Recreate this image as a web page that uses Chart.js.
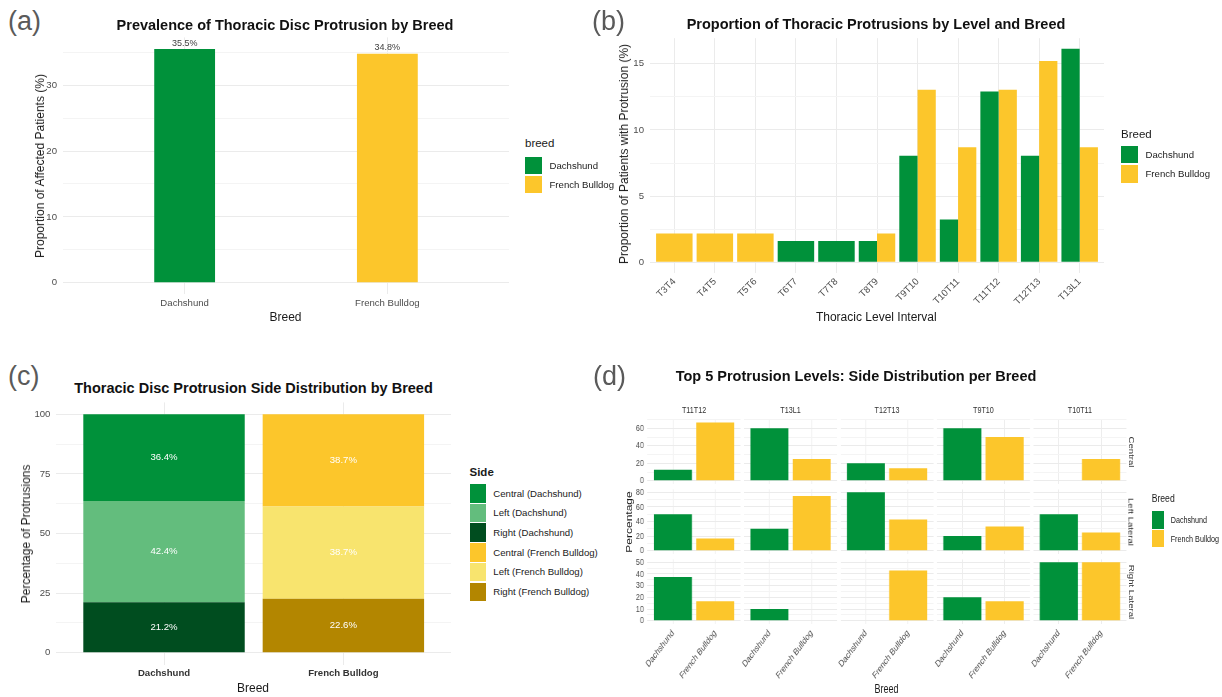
<!DOCTYPE html>
<html lang="en">
<head>
<meta charset="utf-8">
<title>Thoracic disc protrusion in Dachshunds and French Bulldogs</title>
<script src="https://cdn.jsdelivr.net/npm/chart.js@4.4.1/dist/chart.umd.min.js"></script>
<style>
  html, body { margin: 0; padding: 0; background: #fff; }
  #fig { position: relative; width: 1222px; height: 697px; overflow: hidden;
         font-family: "Liberation Sans", Arial, sans-serif; background: #fff; }
  .t { position: absolute; white-space: nowrap; line-height: 1; }
  .sw { position: absolute; }
  canvas { position: absolute; }
  /* the faceted panel is drawn at full width and squeezed horizontally */
  #facets { position: absolute; left: 600px; top: 0; width: 830px; height: 697px;
            transform: scaleX(0.75); transform-origin: 0 0; }
</style>
</head>
<body>
<div id="fig"><div id="facets"></div></div>
<script>
// ---------------- data ----------------
const breeds = ['Dachshund', 'French Bulldog'];
const breedColors = ['#00913a', '#fcc62b'];

// (a) prevalence per breed (%)
const prevalence = [35.5, 34.8];
const prevalenceTicks = [0, 10, 20, 30];

// (b) proportion of patients with a protrusion at each thoracic level (%)
const levels = ['T3T4', 'T4T5', 'T5T6', 'T6T7', 'T7T8', 'T8T9', 'T9T10', 'T10T11', 'T11T12', 'T12T13', 'T13L1'];
const levelDachshund = [null, null, null, 1.61, 1.61, 1.61, 8.06, 3.23, 12.9, 8.06, 16.13];
const levelFrench = [2.17, 2.17, 2.17, null, null, 2.17, 13.04, 8.7, 13.04, 15.22, 8.7];
const levelTicks = [0, 5, 10, 15];

// (c) side of protrusion per breed (%)
const sides = ['Central', 'Left', 'Right'];
const sideDachshund = [36.4, 42.4, 21.2];
const sideFrench = [38.7, 38.7, 22.6];
const sideColorsDachshund = ['#00913a', '#63bd7d', '#004d1f'];
const sideColorsFrench = ['#fcc62b', '#f8e46e', '#b38600'];
const sideTicks = [0, 25, 50, 75, 100];

// (d) side distribution for the five most affected levels (%)
const topLevels = ['T11T12', 'T13L1', 'T12T13', 'T9T10', 'T10T11'];
const facetRows = ['Central', 'Left Lateral', 'Right Lateral'];
const centralDachshund = [12.5, 60, 20, 60, null];
const centralFrench = [66.7, 25, 14.3, 50, 25];
const leftDachshund = [50, 30, 80, 20, 50];
const leftFrench = [16.7, 75, 42.9, 33.3, 25];
const rightDachshund = [37.5, 10, null, 20, 50];
const rightFrench = [16.7, null, 42.9, 16.7, 50];
const centralTicks = [0, 20, 40, 60];
const leftTicks = [0, 20, 40, 60, 80];
const rightTicks = [0, 10, 20, 30, 40, 50];

// ---------------- style ----------------
const FONT = '"Liberation Sans", Arial, sans-serif';
Chart.defaults.font.family = FONT;
const GRID = '#ebebeb', GRID_MINOR = '#f4f4f4', TICK = '#4d4d4d', INK = '#1a1a1a';
const TICK_SIZE = 9.6, TITLE_SIZE = 12, LEGEND_TITLE = 11.5;

const fig = document.getElementById('fig');
const facets = document.getElementById('facets');

// ---------------- helpers ----------------
function text(parent, str, x, base, size, o = {}) {
  const d = document.createElement('div');
  d.className = 't';
  d.textContent = str;
  d.style.fontSize = size + 'px';
  d.style.fontWeight = o.bold ? 'bold' : 'normal';
  d.style.color = o.color || INK;
  d.style.left = x + 'px';
  d.style.top = (base - 0.847 * size) + 'px';
  const a = o.align || 'left';
  d.style.transform = a === 'center' ? 'translateX(-50%)' : a === 'right' ? 'translateX(-100%)' : 'none';
  parent.appendChild(d);
  return d;
}
function rtext(parent, str, cx, cy, size, deg, o = {}) {
  const d = document.createElement('div');
  d.className = 't';
  d.textContent = str;
  d.style.fontSize = size + 'px';
  d.style.fontWeight = o.bold ? 'bold' : 'normal';
  d.style.color = o.color || INK;
  d.style.left = cx + 'px';
  d.style.top = cy + 'px';
  d.style.transform = `translate(-50%, -50%) rotate(${deg}deg)`;
  parent.appendChild(d);
}
function swatch(parent, x, y, w, h, color) {
  const d = document.createElement('div');
  d.className = 'sw';
  Object.assign(d.style, { left: x + 'px', top: y + 'px', width: w + 'px', height: h + 'px', background: color });
  parent.appendChild(d);
}
function legend(parent, title, labels, colors, g) {
  text(parent, title, g.x, g.titleBase, g.titleSize || LEGEND_TITLE, { bold: g.bold });
  labels.forEach((lab, i) => {
    const top = g.y + i * g.step;
    swatch(parent, g.x + (g.swDx || 0), top, g.sw, g.sh, colors[i]);
    text(parent, lab, g.labelX, top + g.sh / 2 + 3.4, g.labelSize || TICK_SIZE, { color: INK });
  });
}
function minorTicks(major, max) {
  const step = major[1] - major[0];
  return major.map(v => v + step / 2).filter(v => v <= max);
}
function zeroPad(s) { s.paddingLeft = 0; s.paddingRight = 0; s.paddingTop = 0; s.paddingBottom = 0; }

// One ggplot-like panel: g.x/g.y/g.w/g.h give the plotting region, L/T/R/B the margins around it.
function barPanel(parent, g) {
  const left = Math.floor(g.x - g.L), top = Math.floor(g.y - g.T);
  const L = g.x - left, T = g.y - top;
  const width = Math.ceil(L + g.w + g.R), height = Math.ceil(T + g.h + g.B);
  const R = width - L - g.w, B = height - T - g.h;
  const cv = document.createElement('canvas');
  cv.width = width; cv.height = height;
  Object.assign(cv.style, { left: left + 'px', top: top + 'px', width: width + 'px', height: height + 'px' });
  parent.appendChild(cv);
  const n = g.categories.length;
  const yAll = g.yMajor.concat(minorTicks(g.yMajor, g.yMax)).sort((a, b) => a - b);
  return new Chart(cv, {
    type: 'bar',
    data: { datasets: g.datasets },
    options: {
      responsive: false, animation: false, devicePixelRatio: 1,
      layout: { padding: { top: T, right: R, left: 0, bottom: 0 } },
      plugins: { legend: { display: false }, tooltip: { enabled: false }, title: { display: false } },
      scales: {
        x: {
          type: 'linear', min: 0.4, max: n + 0.6, bounds: 'data', offset: false, stacked: !!g.stacked,
          grid: { offset: false, drawTicks: false, color: GRID, lineWidth: 1 },
          border: { display: false },
          afterBuildTicks: s => { s.ticks = g.categories.map((_, i) => ({ value: i + 1 })); },
          afterFit: s => { s.height = B; zeroPad(s); },
          ticks: {
            display: g.showX !== false, autoSkip: false, minRotation: g.rot || 0, maxRotation: g.rot || 0,
            padding: g.xPad, color: g.xColor || TICK,
            font: { size: TICK_SIZE, weight: g.xBold ? 'bold' : 'normal' },
            callback: v => g.categories[v - 1] ?? ''
          }
        },
        y: {
          type: 'linear', min: g.yMin, max: g.yMax, bounds: 'data', stacked: !!g.stacked,
          grid: { drawTicks: false, lineWidth: 1,
                  color: c => (c.tick && g.yMajor.includes(c.tick.value)) ? GRID : GRID_MINOR },
          border: { display: false },
          afterBuildTicks: s => { s.ticks = yAll.map(v => ({ value: v })); },
          afterFit: s => { s.width = L; zeroPad(s); },
          ticks: {
            display: g.showY !== false, autoSkip: false, padding: g.yPad, color: TICK,
            font: { size: TICK_SIZE },
            callback: v => g.yMajor.includes(v) ? String(v) : ''
          }
        }
      }
    },
    plugins: g.plugins || []
  });
}
const points = vals => vals.map((v, i) => ({ x: i + 1, y: v }));

// ---------------- panel letters and titles ----------------
const LETTER = { size: 27, color: '#5a5a5a' };
text(fig, '(a)', 8, 31, LETTER.size, { color: LETTER.color });
text(fig, '(b)', 592, 31, LETTER.size, { color: LETTER.color });
text(fig, '(c)', 8, 386, LETTER.size, { color: LETTER.color });
text(fig, '(d)', 593, 386, LETTER.size, { color: LETTER.color });

text(fig, 'Prevalence of Thoracic Disc Protrusion by Breed', 285, 30, 14.5, { bold: true, align: 'center', color: '#111' });
text(fig, 'Proportion of Thoracic Protrusions by Level and Breed', 876, 29.5, 14.5, { bold: true, align: 'center', color: '#111' });
text(fig, 'Thoracic Disc Protrusion Side Distribution by Breed', 253.5, 393.5, 14.5, { bold: true, align: 'center', color: '#111' });
text(fig, 'Top 5 Protrusion Levels: Side Distribution per Breed', 856, 381, 14.5, { bold: true, align: 'center', color: '#111' });

// ---------------- (a) prevalence ----------------
const prevalenceLabels = {
  id: 'prevalenceLabels',
  afterDatasetsDraw(chart) {
    const ctx = chart.ctx;
    ctx.save();
    ctx.font = `9px ${FONT}`;
    ctx.fillStyle = '#404040';
    ctx.textAlign = 'center';
    ctx.textBaseline = 'bottom';
    chart.getDatasetMeta(0).data.forEach((bar, i) => ctx.fillText(prevalence[i].toFixed(1) + '%', bar.x, bar.y - 1.5));
    ctx.restore();
  }
};
const maxA = Math.max(...prevalence);
barPanel(fig, {
  x: 63, y: 37.4, w: 446, h: 257, L: 60, T: 6, R: 8, B: 30,
  categories: breeds, yMin: -0.05 * maxA, yMax: 1.05 * maxA, yMajor: prevalenceTicks,
  yPad: 6, xPad: 3,
  datasets: [{ data: points(prevalence), backgroundColor: breedColors, borderWidth: 0,
               categoryPercentage: 1, barPercentage: 0.3 }],
  plugins: [prevalenceLabels]
});
text(fig, 'Breed', 285.5, 320.8, TITLE_SIZE, { align: 'center' });
rtext(fig, 'Proportion of Affected Patients (%)', 40, 166, TITLE_SIZE, -90);
legend(fig, 'breed', breeds, breedColors,
  { x: 525, titleBase: 148, y: 156.7, step: 19.2, sw: 17.3, sh: 17.3, labelX: 549.5 });

// ---------------- (b) by level ----------------
const maxB = Math.max(...levelDachshund.filter(v => v != null), ...levelFrench.filter(v => v != null));
barPanel(fig, {
  x: 650, y: 38.2, w: 454, h: 234.8, L: 50, T: 6, R: 8, B: 50,
  categories: levels, yMin: -0.05 * maxB, yMax: 1.05 * maxB, yMajor: levelTicks,
  yPad: 6, xPad: 3, rot: 45,
  datasets: [
    { label: breeds[0], data: points(levelDachshund), backgroundColor: breedColors[0], borderWidth: 0,
      skipNull: true, categoryPercentage: 0.9, barPercentage: 1 },
    { label: breeds[1], data: points(levelFrench), backgroundColor: breedColors[1], borderWidth: 0,
      skipNull: true, categoryPercentage: 0.9, barPercentage: 1 }
  ]
});
text(fig, 'Thoracic Level Interval', 876.3, 320.8, TITLE_SIZE, { align: 'center' });
rtext(fig, 'Proportion of Patients with Protrusion (%)', 624, 153.5, TITLE_SIZE, -90);
legend(fig, 'Breed', breeds, breedColors,
  { x: 1121, titleBase: 138.5, y: 145.7, step: 19.4, sw: 17.2, sh: 17.6, labelX: 1145.5 });

// ---------------- (c) side distribution ----------------
const sideLabels = {
  id: 'sideLabels',
  afterDatasetsDraw(chart) {
    const ctx = chart.ctx;
    ctx.save();
    ctx.font = `${TICK_SIZE}px ${FONT}`;
    ctx.fillStyle = '#ffffff';
    ctx.textAlign = 'center';
    ctx.textBaseline = 'middle';
    chart.data.datasets.forEach((ds, di) => {
      chart.getDatasetMeta(di).data.forEach((bar, i) => {
        ctx.fillText(ds.data[i].y.toFixed(1) + '%', bar.x, (bar.y + bar.base) / 2);
      });
    });
    ctx.restore();
  }
};
const sideTotal = Math.max(sideDachshund.reduce((a, b) => a + b, 0), sideFrench.reduce((a, b) => a + b, 0));
const sideMax = Math.round(sideTotal);
// stacked bottom-up: Right, Left, Central
const sideDatasets = [2, 1, 0].map(k => ({
  label: sides[k],
  data: points([sideDachshund[k], sideFrench[k]]),
  backgroundColor: [sideColorsDachshund[k], sideColorsFrench[k]],
  borderWidth: 0, categoryPercentage: 1, barPercentage: 0.9
}));
barPanel(fig, {
  x: 56.4, y: 402.4, w: 394.6, h: 262.2, L: 50, T: 6, R: 8, B: 28,
  categories: breeds, yMin: -0.05 * sideMax, yMax: 1.05 * sideMax, yMajor: sideTicks,
  yPad: 6, xPad: 3, xBold: true, xColor: '#333', stacked: true,
  datasets: sideDatasets, plugins: [sideLabels]
});
text(fig, 'Breed', 253, 692.5, TITLE_SIZE, { align: 'center' });
rtext(fig, 'Percentage of Protrusions', 26, 534, TITLE_SIZE, -90);
const sideLegendLabels = [], sideLegendColors = [];
breeds.forEach((b, bi) => sides.forEach((s, k) => {
  sideLegendLabels.push(`${s} (${b})`);
  sideLegendColors.push(bi === 0 ? sideColorsDachshund[k] : sideColorsFrench[k]);
}));
legend(fig, 'Side', sideLegendLabels, sideLegendColors,
  { x: 469.5, titleBase: 476.5, y: 484, step: 19.7, sw: 16.8, sh: 18.7, labelX: 493.3, bold: true });

// ---------------- (d) facets ----------------
const FX = 600, FS = 0.75;
const ix = x => (x - FX) / FS;
const facetData = [
  { d: centralDachshund, f: centralFrench, ticks: centralTicks },
  { d: leftDachshund, f: leftFrench, ticks: leftTicks },
  { d: rightDachshund, f: rightFrench, ticks: rightTicks }
];
const rowTops = [419.5, 489.4, 559.4], rowH = 64.2;
const colLeft0 = 647.6, colStep = 96.45, colW = 93;
facetData.forEach((row, r) => {
  const max = Math.max(...row.d.filter(v => v != null), ...row.f.filter(v => v != null));
  topLevels.forEach((lvl, c) => {
    barPanel(facets, {
      x: ix(colLeft0 + c * colStep), y: rowTops[r], w: colW / FS, h: rowH,
      L: 40, T: 6, R: 4, B: 74,
      categories: breeds, yMin: -0.05 * max, yMax: 1.05 * max, yMajor: row.ticks,
      yPad: 5, xPad: 4, rot: 45, showY: c === 0, showX: r === 2,
      datasets: [{ data: points([row.d[c], row.f[c]]), backgroundColor: breedColors, borderWidth: 0,
                   categoryPercentage: 1, barPercentage: 0.9 }]
    });
  });
  rtext(facets, facetRows[r], ix(1131), rowTops[r] + rowH / 2, TICK_SIZE, 90, { color: '#333' });
});
topLevels.forEach((lvl, c) => {
  text(facets, lvl, ix(colLeft0 + c * colStep + colW / 2), 413.5, TICK_SIZE, { align: 'center', color: '#333' });
});
text(facets, 'Breed', ix(886.5), 693, TITLE_SIZE, { align: 'center' });
rtext(facets, 'Percentage', ix(628.6), 521.5, TITLE_SIZE, -90);
legend(facets, 'Breed', breeds, breedColors,
  { x: ix(1151.7), titleBase: 502.5, y: 511, step: 18.8, sw: 12.3 / FS, sh: 17.6, labelX: ix(1170.7) });
</script>
</body>
</html>
